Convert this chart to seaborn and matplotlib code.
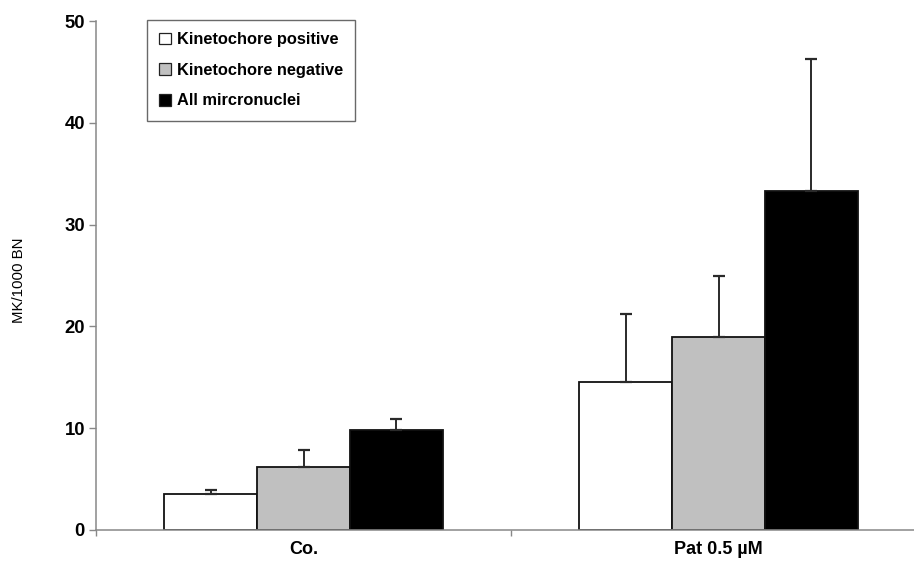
import matplotlib
matplotlib.use("Agg")
import matplotlib.pyplot as plt
from matplotlib.patches import Patch
from matplotlib.ticker import FixedLocator
import seaborn as sns
import pandas as pd

categories = ["Co.", "Pat 0.5 µM"]
series = ["Kinetochore positive", "Kinetochore negative", "All mircronuclei"]
values = {
    "Kinetochore positive": [3.5, 14.5],
    "Kinetochore negative": [6.2, 19.0],
    "All mircronuclei": [9.8, 33.3],
}
errors = {
    "Kinetochore positive": [0.4, 6.7],
    "Kinetochore negative": [1.7, 6.0],
    "All mircronuclei": [1.1, 13.0],
}
colors = ["#ffffff", "#c0c0c0", "#000000"]
y_ticks = [0, 10, 20, 30, 40, 50]

rows = []
for s in series:
    for c, v in zip(categories, values[s]):
        rows.append({"group": c, "series": s, "value": v})
df = pd.DataFrame(rows)

sns.set_theme(style="white", rc={"text.color": "black", "axes.labelcolor": "black",
                                 "xtick.color": "black", "ytick.color": "black"})
plt.rcParams["font.family"] = ["Liberation Sans", "DejaVu Sans"]

fig = plt.figure(figsize=(9.14, 5.65), dpi=100)
ax = fig.add_axes([96 / 914, 1 - 530 / 565, 1 - 96 / 914, (530 - 21) / 565])

sns.barplot(data=df, x="group", y="value", hue="series", order=categories,
            hue_order=series, palette=colors, width=0.67, gap=0,
            edgecolor="#111111", linewidth=1.3, legend=False, ax=ax, errorbar=None)

# upper-only error bars, placed at the centre of each drawn bar
for s, container in zip(series, ax.containers):
    for bar, err in zip(container.patches, errors[s]):
        xc = bar.get_x() + bar.get_width() / 2
        top = bar.get_height()
        ax.errorbar(xc, top, yerr=[[0], [err]], fmt="none", ecolor="#2a2a2a",
                    elinewidth=1.4, capsize=4.2, capthick=1.6, zorder=1)

ax.set_ylim(0, 50)
ax.set_xlim(-0.5, 1.471)
ax.set_yticks(y_ticks)
ax.set_yticklabels([str(t) for t in y_ticks], fontweight="bold", fontsize=13.3)
ax.set_xticks(range(len(categories)))
ax.set_xticklabels(categories, fontweight="bold", fontsize=13)
ax.xaxis.set_minor_locator(FixedLocator([-0.5, 0.5, 1.5]))
ax.tick_params(axis="x", which="major", length=0, pad=8, labelcolor="black")
ax.tick_params(axis="x", which="minor", length=4, color="#888888", width=1, direction="out", bottom=True)
ax.tick_params(axis="y", length=5, color="#888888", width=1, direction="out", left=True, pad=3,
               labelcolor="black")
ax.set_xlabel("")
ax.set_ylabel("MK/1000 BN", fontsize=10.8, color="black")
ax.yaxis.set_label_coords(-0.0856, 0.49)

for side in ["top", "right"]:
    ax.spines[side].set_visible(False)
for side in ["left", "bottom"]:
    ax.spines[side].set_color("#888888")
    ax.spines[side].set_linewidth(1.1)

handles = [Patch(facecolor=c, edgecolor="#222222", linewidth=0.9, label=s)
           for c, s in zip(colors, series)]
leg = ax.legend(handles=handles, loc="upper left", bbox_to_anchor=(0.062, 1.002),
                frameon=True, fancybox=False, handlelength=0.72, handleheight=0.72,
                handletextpad=0.37, labelspacing=0.95, borderpad=0.75,
                prop={"weight": "bold", "size": 11.8}, borderaxespad=0, labelcolor="black")
leg.get_frame().set_edgecolor("#444444")
leg.get_frame().set_linewidth(1.0)

fig.savefig("out.png", dpi=100)
